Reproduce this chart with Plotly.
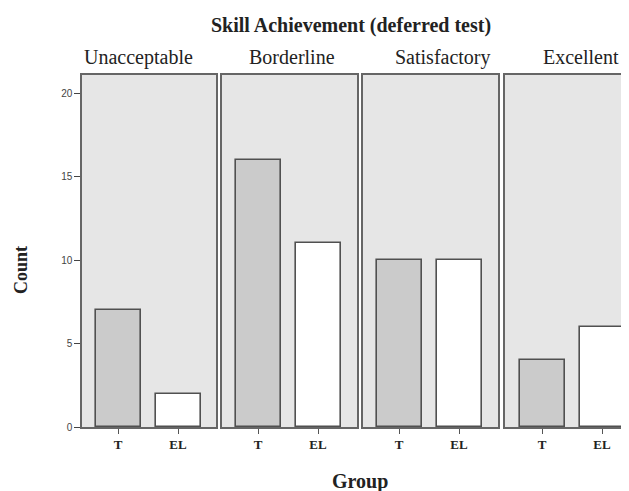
import plotly.graph_objects as go
from plotly.subplots import make_subplots

panels = ["Unacceptable", "Borderline", "Satisfactory", "Excellent"]
groups = ["T", "EL"]
t_counts = [7, 16, 10, 4]
el_counts = [2, 11, 10, 6]
y_ticks = [0, 5, 10, 15, 20]

# page has an 8px body margin; figure coordinates = screen - 8
OFF = 8
W, H = 629 - OFF, 491 - OFF
ml, mr, mt, mb = 82 - OFF, 0, 75 - OFF, H - (427 - OFF)
pw = W - ml - mr
ph = H - mt - mb


def px_x(sx):
    return (sx - 82) / pw


def px_y(sy):
    return (427 - sy) / ph


dom_px = [(82, 216), (222, 357), (363, 498), (505, 629)]
domains = [(px_x(a), min(1.0, px_x(b))) for a, b in dom_px]
ranges = [[-0.6, 1.633], [-0.6, 1.65], [-0.6, 1.65], [-0.617, 1.45]]
label_cx = [138, 292, 443, 581]

fig = make_subplots(rows=1, cols=4, shared_yaxes=True)

edge = "#505050"
for i, p in enumerate(panels):
    fig.add_trace(go.Bar(
        x=groups, y=[t_counts[i], el_counts[i]],
        marker=dict(color=["#cbcbcb", "#ffffff"], line=dict(color=edge, width=1.6)),
        width=0.75, showlegend=False, hoverinfo="skip"), row=1, col=i + 1)

for i in range(4):
    sx = "" if i == 0 else str(i + 1)
    fig.layout["xaxis" + sx].update(
        domain=list(domains[i]), range=ranges[i], type="category",
        showline=True, linecolor="#666666", linewidth=1.5, mirror=True,
        ticks="outside", ticklen=5, tickcolor="#555", tickwidth=1,
        showgrid=False, zeroline=False,
        tickfont=dict(family="Liberation Serif", size=13, color="#222"),
    )
    fig.layout["yaxis" + sx].update(
        range=[0, 21.08], showgrid=False, zeroline=False,
        showline=True, linecolor="#666666", linewidth=1.5,
        mirror=(i < 3),
        tickvals=y_ticks if i == 0 else [],
        ticks="outside" if i == 0 else "", ticklen=6, tickcolor="#444",
        showticklabels=(i == 0),
        tickfont=dict(family="Liberation Sans", size=10, color="#444"),
    )
    fig.add_annotation(
        x=px_x(label_cx[i]), y=px_y(57), xref="paper", yref="paper",
        text=panels[i], showarrow=False, xanchor="center", yanchor="middle",
        font=dict(family="Liberation Serif", size=20, color="#222"))

fig.update_xaxes(tickprefix="<b>", ticksuffix="</b>")

fig.add_annotation(x=px_x(21), y=px_y(270), xref="paper", yref="paper",
                   text="<b>Count</b>", textangle=-90, showarrow=False,
                   xanchor="center", yanchor="middle",
                   font=dict(family="Liberation Serif", size=18, color="#222"))
fig.add_annotation(x=px_x(360), y=px_y(481), xref="paper", yref="paper",
                   text="<b>Group</b>", showarrow=False, xanchor="center", yanchor="middle",
                   font=dict(family="Liberation Serif", size=20, color="#222"))

fig.update_layout(
    width=W, height=H,
    margin=dict(l=ml, r=mr, t=mt, b=mb),
    paper_bgcolor="white", plot_bgcolor="#e6e6e6",
    bargap=0,
    title=dict(text="<b>Skill Achievement (deferred test)</b>",
               x=(351 - OFF) / W, xanchor="center",
               y=1 - (25 - OFF) / H, yanchor="middle",
               font=dict(family="Liberation Serif", size=20, color="#222")),
)

fig.write_html("out.html")
